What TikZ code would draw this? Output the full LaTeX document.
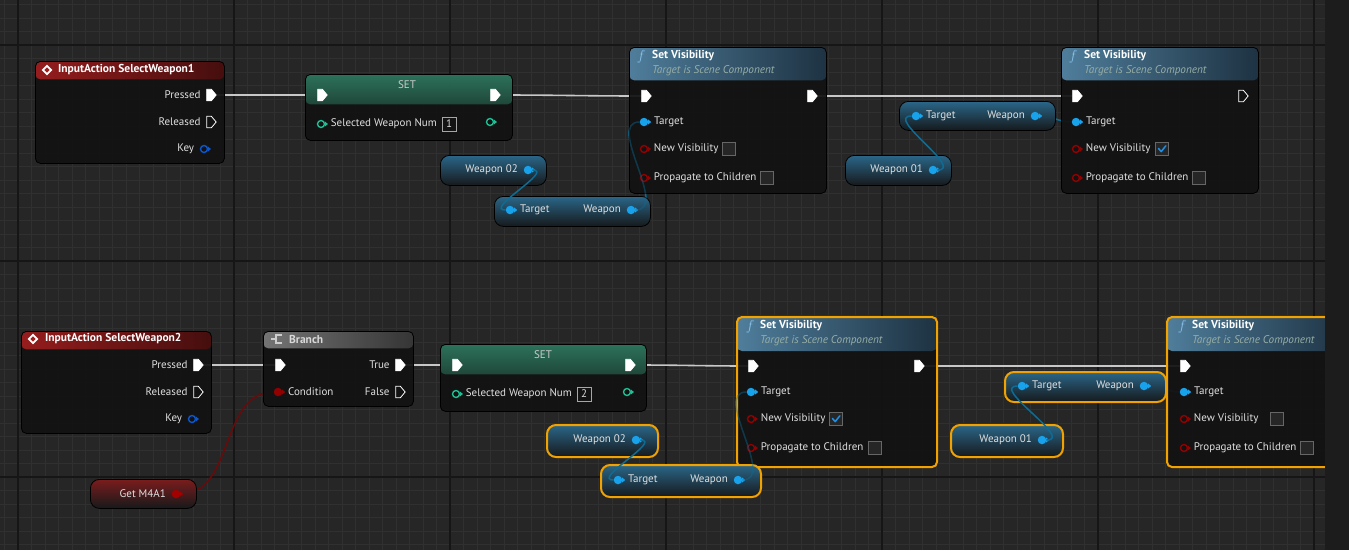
\documentclass[tikz,border=0pt]{standalone}
\usepackage{amssymb}
\usepackage{fontspec}
\setmainfont{PT Sans}
\usepackage{tikz}
\usetikzlibrary{shapes.geometric,shapes.symbols,backgrounds}

\definecolor{canvas}{HTML}{262626}
\definecolor{gridfine}{HTML}{303030}
\definecolor{gridbold}{HTML}{161616}
\definecolor{nodebody}{HTML}{121212}
\definecolor{panel}{HTML}{1C1C1C}
\definecolor{execwire}{HTML}{C8C8C8}
\definecolor{objpin}{HTML}{18A2EC}
\definecolor{objwire}{HTML}{0E6C94}
\definecolor{boolpin}{HTML}{930000}
\definecolor{boolwire}{HTML}{6A0A0A}
\definecolor{intpin}{HTML}{1FBF94}
\definecolor{structpin}{HTML}{0A58D0}
\definecolor{selorange}{HTML}{F2A200}
\definecolor{subtext}{HTML}{98AEA6}
\definecolor{iared}{HTML}{A01E1E}
\definecolor{iadark}{HTML}{4A0E0E}
\definecolor{fnlight}{HTML}{5486A6}
\definecolor{fndark}{HTML}{1F3546}
\definecolor{fnicon}{HTML}{8CC4EC}
\definecolor{setglow}{HTML}{2E7A60}
\definecolor{brlight}{HTML}{7C7C7C}
\definecolor{brdark}{HTML}{383838}
\definecolor{pillblue}{HTML}{2A6688}
\definecolor{pillred}{HTML}{7A1C1C}
\definecolor{pillbase}{HTML}{16191B}
\definecolor{checkblue}{HTML}{1E90E8}

\begin{document}
\begin{tikzpicture}[
  x=1pt,y=-1pt,
  font=\fontsize{11}{13}\selectfont,
  bpnode/.style={rounded corners=5pt, draw=black, line width=0.8pt, fill=nodebody,
                 fill opacity=0.93, anchor=north west, inner sep=0pt},
  head/.style 2 args={path picture={\shade[#1] (path picture bounding box.north west)
                 rectangle ([yshift=-#2]path picture bounding box.north east);}},
  sel/.style={draw=selorange, line width=2pt},
  pill/.style={rounded corners=9pt, draw=black, line width=0.8pt, anchor=north west,
               inner sep=0pt, top color=#1, bottom color=pillbase, minimum height=30pt},
  title/.style={text=white, font=\fontsize{11.5}{13}\selectfont\bfseries, anchor=west, inner sep=0pt},
  subtitle/.style={text=subtext, font=\fontsize{11.2}{13}\selectfont\itshape, anchor=west, inner sep=0pt},
  fnmark/.style={text=fnicon, inner sep=0pt, font=\fontsize{14}{14}\selectfont},
  pintext/.style={text=white!88!black, inner sep=0pt, label distance=5.5pt},
  txr/.style={label={[pintext]0:#1}},
  txl/.style={label={[pintext]180:#1}},
  execpin/.style={shape=signal, signal to=east, signal pointer angle=100,
                  minimum width=9.5pt, minimum height=11.5pt, inner sep=0pt,
                  draw=white, fill=white, line width=0.8pt},
  execopen/.style={execpin, fill=nodebody},
  pintip/.style={isosceles triangle, isosceles triangle apex angle=80, fill=#1,
                 inner sep=0pt, minimum size=3pt, label distance=-0.5pt},
  datapin/.style={circle, inner sep=0pt, minimum size=8.5pt, fill=#1,
                  label={[pintip=#1]0:}},
  dataopen/.style={circle, inner sep=0pt, minimum size=7pt, draw=#1, line width=1.4pt,
                   fill=nodebody, label={[pintip=#1]0:}},
  checkbox/.style={draw=black!60, fill=black!85, minimum size=13pt, inner sep=0pt,
                   line width=0.6pt},
  checked/.style={checkbox, path picture={\draw[checkblue, line width=1.5pt, line cap=round, line join=round]
                   ([xshift=-3.5pt,yshift=0.5pt]path picture bounding box.center)
                   -- ([xshift=-0.8pt,yshift=-2.6pt]path picture bounding box.center)
                   -- ([xshift=3.8pt,yshift=3.2pt]path picture bounding box.center);}},
  valbox/.style={draw=black!35, minimum size=14pt, inner sep=0pt, text=white!85!black},
  execwire/.style={draw=execwire, line width=1.6pt},
  objwire/.style={draw=objwire, line width=1.5pt},
  faintwire/.style={draw=objwire, line width=1.5pt, draw opacity=0.4},
  boolwire/.style={draw=boolwire, line width=1.5pt},
]
\useasboundingbox (0,0) rectangle (1349,550);

% ---------------- Canvas grid ----------------
\begin{scope}[on background layer]
\fill[canvas] (0,0) rectangle (1349,550);
\foreach \gx in {0,...,99}
  \draw[gridfine, line width=0.6pt] (4.5+13.5*\gx,0) -- (4.5+13.5*\gx,550);
\foreach \gy in {0,...,40}
  \draw[gridfine, line width=0.6pt] (0,4.5+13.5*\gy) -- (1349,4.5+13.5*\gy);
\foreach \gx in {18,234,...,1314}
  \draw[gridbold, line width=1.2pt] (\gx,0) -- (\gx,550);
\foreach \gy in {45,261,477}
  \draw[gridbold, line width=1.2pt] (0,\gy) -- (1349,\gy);
\end{scope}

% ---------------- Top row: SelectWeapon1 ----------------
\node[bpnode, minimum width=189pt, minimum height=102pt,
      head={left color=iared, right color=iadark}{18pt}] (ia1) at (35,61) {};
\node[diamond, draw=white, line width=1.8pt, fill=iared, minimum size=9pt, inner sep=0pt] (ia1ico) at (47,70) {};
\node[title] (ia1ttl) at (58,70) {InputAction SelectWeapon1};
\node[execpin, txl=Pressed] (ia1p) at (209,95) {};
\node[execopen, txl=Released] (ia1r) at (209,122) {};
\node[dataopen=structpin, txl=Key] (ia1k) at (204,149) {};

% SET 1
\node[bpnode, minimum width=207pt, minimum height=66pt,
      head={top color=setglow, bottom color=nodebody}{30pt}] (set1) at (305,74) {};
\node[text=white!80!black, inner sep=0pt] (set1ttl) at (407,85) {SET};
\node[execpin] (set1in) at (320,95) {};
\node[execpin] (set1out) at (493,95) {};
\node[dataopen=intpin, txr=Selected Weapon Num] (set1v) at (321,124) {};
\node[valbox] (set1val) at (449,124) {1};
\node[dataopen=intpin] (set1o) at (490,122) {};

% Set Visibility (hide weapon 02)
\node[bpnode, minimum width=197pt, minimum height=146pt,
      head={left color=fnlight, right color=fndark}{33pt}] (sv1) at (629,47) {};
\node[fnmark] (sv1f) at (641,57) {$f$};
\node[title] (sv1ttl) at (652,56) {Set Visibility};
\node[subtitle] (sv1sub) at (652,71) {Target is Scene Component};
\node[execpin] (sv1in) at (644,96) {};
\node[execpin] (sv1out) at (810,96) {};
\node[datapin=objpin, txr=Target] (sv1t) at (644,122) {};
\node[dataopen=boolpin, txr=New Visibility] (sv1n) at (644,149) {};
\node[checkbox] (sv1nb) at (729,149) {};
\node[dataopen=boolpin, txr=Propagate to Children] (sv1c) at (644,178) {};
\node[checkbox] (sv1cb) at (767,178) {};

\node[pill=pillblue, minimum width=106pt] (w02top) at (440,155) {};
\node[datapin=objpin, txl=Weapon 02] (w02topv) at (528,170) {};
\node[pill=pillblue, minimum width=156pt] (tw1) at (494,196) {};
\node[datapin=objpin, txr=Target] (tw1t) at (510,210) {};
\node[datapin=objpin, txl=Weapon] (tw1w) at (631,210) {};

% Set Visibility (show weapon 01)
\node[bpnode, minimum width=197pt, minimum height=146pt,
      head={left color=fnlight, right color=fndark}{33pt}] (sv2) at (1061,47) {};
\node[fnmark] (sv2f) at (1073,57) {$f$};
\node[title] (sv2ttl) at (1084,56) {Set Visibility};
\node[subtitle] (sv2sub) at (1084,71) {Target is Scene Component};
\node[execpin] (sv2in) at (1075,96) {};
\node[execopen] (sv2out) at (1241,96) {};
\node[datapin=objpin, txr=Target] (sv2t) at (1076,122) {};
\node[dataopen=boolpin, txr=New Visibility] (sv2n) at (1076,149) {};
\node[checked] (sv2nb) at (1162,149) {};
\node[dataopen=boolpin, txr=Propagate to Children] (sv2c) at (1076,178) {};
\node[checkbox] (sv2cb) at (1199,178) {};

\node[pill=pillblue, minimum width=156pt, minimum height=29pt] (tw2) at (899,101) {};
\node[datapin=objpin, txr=Target] (tw2t) at (916,116) {};
\node[datapin=objpin, txl=Weapon] (tw2w) at (1035,116) {};
\node[pill=pillblue, minimum width=106pt] (w01top) at (845,155) {};
\node[datapin=objpin, txl=Weapon 01] (w01topv) at (933,170) {};

% ---------------- Bottom row: SelectWeapon2 ----------------
\node[bpnode, minimum width=190pt, minimum height=102pt,
      head={left color=iared, right color=iadark}{18pt}] (ia2) at (21,331) {};
\node[diamond, draw=white, line width=1.8pt, fill=iared, minimum size=9pt, inner sep=0pt] (ia2ico) at (33,339) {};
\node[title] (ia2ttl) at (45,339) {InputAction SelectWeapon2};
\node[execpin, txl=Pressed] (ia2p) at (196,365) {};
\node[execopen, txl=Released] (ia2r) at (196,392) {};
\node[dataopen=structpin, txl=Key] (ia2k) at (192,419) {};

% Branch
\node[bpnode, minimum width=150pt, minimum height=75pt,
      head={left color=brlight, right color=brdark}{17pt}] (br) at (263,331) {};
\draw[white!80!black, line width=1.3pt] (271,339) -- (276,339) (282,335) -- (276,335) -- (276,343) -- (282,343);
\node[title, text=white!85!black] (brttl) at (289,339) {Branch};
\node[execpin] (brin) at (278,365) {};
\node[datapin=boolpin, txr=Condition] (brc) at (278,392) {};
\node[execpin, txl=True] (brt) at (398,365) {};
\node[execopen, txl=False] (brf) at (398,392) {};

% SET 2
\node[bpnode, minimum width=206pt, minimum height=67pt,
      head={top color=setglow, bottom color=nodebody}{30pt}] (set2) at (440,344) {};
\node[text=white!80!black, inner sep=0pt] (set2ttl) at (543,355) {SET};
\node[execpin] (set2in) at (455,365) {};
\node[execpin] (set2out) at (628,365) {};
\node[dataopen=intpin, txr=Selected Weapon Num] (set2v) at (456,394) {};
\node[valbox] (set2val) at (584,394) {2};
\node[dataopen=intpin] (set2o) at (627,392) {};

% Set Visibility (show weapon 02), selected
\node[bpnode, sel, minimum width=200pt, minimum height=150pt,
      head={left color=fnlight, right color=fndark}{34pt}] (sv3) at (736,316) {};
\node[fnmark] (sv3f) at (750,327) {$f$};
\node[title] (sv3ttl) at (760,326) {Set Visibility};
\node[subtitle] (sv3sub) at (760,341) {Target is Scene Component};
\node[execpin] (sv3in) at (751,366) {};
\node[execpin] (sv3out) at (917,366) {};
\node[datapin=objpin, txr=Target] (sv3t) at (751,392) {};
\node[dataopen=boolpin, txr=New Visibility] (sv3n) at (751,419) {};
\node[checked] (sv3nb) at (836,419) {};
\node[dataopen=boolpin, txr=Propagate to Children] (sv3c) at (751,448) {};
\node[checkbox] (sv3cb) at (875,448) {};

\node[pill=pillblue, sel, minimum width=111pt, minimum height=32pt] (w02bot) at (546,424) {};
\node[datapin=objpin, txl=Weapon 02] (w02botv) at (636,440) {};
\node[pill=pillblue, sel, minimum width=160pt, minimum height=32pt] (tw3) at (600,464) {};
\node[datapin=objpin, txr=Target] (tw3t) at (618,480) {};
\node[datapin=objpin, txl=Weapon] (tw3w) at (738,480) {};

% Set Visibility (hide weapon 01), selected
\node[bpnode, sel, minimum width=180pt, minimum height=150pt,
      head={left color=fnlight, right color=fndark}{34pt}] (sv4) at (1166,316) {};
\node[fnmark] (sv4f) at (1182,327) {$f$};
\node[title] (sv4ttl) at (1192,326) {Set Visibility};
\node[subtitle] (sv4sub) at (1192,341) {Target is Scene Component};
\node[execpin] (sv4in) at (1183,366) {};
\node[datapin=objpin, txr=Target] (sv4t) at (1184,392) {};
\node[dataopen=boolpin, txr=New Visibility] (sv4n) at (1184,419) {};
\node[checkbox] (sv4nb) at (1277,419) {};
\node[dataopen=boolpin, txr=Propagate to Children] (sv4c) at (1184,448) {};
\node[checkbox] (sv4cb) at (1307,448) {};

\node[pill=pillblue, sel, minimum width=161pt] (tw4) at (1004,371) {};
\node[datapin=objpin, txr=Target] (tw4t) at (1022,386) {};
\node[datapin=objpin, txl=Weapon] (tw4w) at (1144,386) {};
\node[pill=pillblue, sel, minimum width=112pt, minimum height=32pt] (w01bot) at (950,424) {};
\node[datapin=objpin, txl=Weapon 01] (w01botv) at (1042,440) {};

\node[pill=pillred, minimum width=106pt, minimum height=29pt] (gm) at (90,479) {};
\node[datapin=boolpin!85!red, txl=Get M4A1] (gmv) at (176,494) {};

% ---------------- Wires ----------------
% exec and "into the node" wires run behind the nodes
\begin{scope}[on background layer]
\draw[execwire] (ia1p) -- (set1in);
\draw[execwire] (set1out) to[out=0,in=180] (sv1in);
\draw[execwire] (sv1out) to[out=0,in=180] (sv2in);
\draw[execwire] (ia2p) -- (brin);
\draw[execwire] (brt) -- (set2in);
\draw[execwire] (set2out) to[out=0,in=180] (sv3in);
\draw[execwire] (sv3out) -- (sv4in);

\draw[objwire] (tw1w) to[out=0,in=180] (sv1t);
\draw[objwire] (tw2w) to[out=0,in=180] (sv2t);
\draw[objwire] (tw3w) to[out=0,in=180] (sv3t);
\draw[objwire] (tw4w) to[out=0,in=180] (sv4t);

\draw[boolwire] (gmv) to[out=0,in=180] (brc);
\end{scope}

% seen faintly through the node bodies
\draw[faintwire] (tw1w) to[out=0,in=180] (sv1t);
\draw[faintwire] (tw3w) to[out=0,in=180] (sv3t);

% variable loops lie over the pills
\draw[objwire] (w02topv) to[out=0,in=180,looseness=1.2] (tw1t);
\draw[objwire] (w01topv) to[out=0,in=180,looseness=1.2] (tw2t);
\draw[objwire] (w02botv) to[out=0,in=180,looseness=1.2] (tw3t);
\draw[objwire] (w01botv) to[out=0,in=180,looseness=1.2] (tw4t);

% right-hand panel edge
\fill[panel] (1325,0) rectangle (1349,550);

\end{tikzpicture}
\end{document}
